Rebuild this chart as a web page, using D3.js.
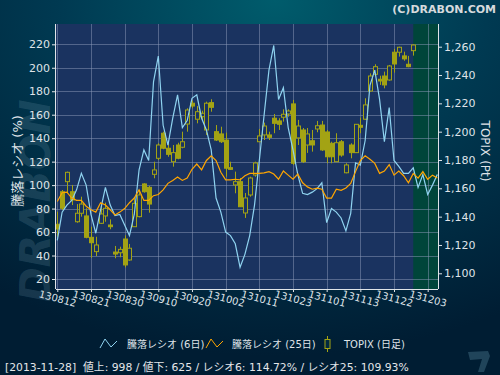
<!DOCTYPE html>
<html>
<head>
<meta charset="utf-8">
<script src="https://cdn.jsdelivr.net/npm/d3@7"></script>
<style>
  html, body { margin: 0; padding: 0; background: #012236; }
  svg { display: block; }
</style>
</head>
<body>
<svg width="500" height="375"></svg>
<script>
// trading days shown on the chart
const dates = [
  "2013-08-12","2013-08-13","2013-08-14","2013-08-15","2013-08-16","2013-08-19","2013-08-20","2013-08-21","2013-08-22","2013-08-23",
  "2013-08-26","2013-08-27","2013-08-28","2013-08-29","2013-08-30","2013-09-02","2013-09-03","2013-09-04","2013-09-05","2013-09-06",
  "2013-09-09","2013-09-10","2013-09-11","2013-09-12","2013-09-13","2013-09-17","2013-09-18","2013-09-19","2013-09-20","2013-09-24",
  "2013-09-25","2013-09-26","2013-09-27","2013-09-30","2013-10-01","2013-10-02","2013-10-03","2013-10-04","2013-10-07","2013-10-08",
  "2013-10-09","2013-10-10","2013-10-11","2013-10-15","2013-10-16","2013-10-17","2013-10-18","2013-10-21","2013-10-22","2013-10-23",
  "2013-10-24","2013-10-25","2013-10-28","2013-10-29","2013-10-30","2013-10-31","2013-11-01","2013-11-05","2013-11-06","2013-11-07",
  "2013-11-08","2013-11-11","2013-11-12","2013-11-13","2013-11-14","2013-11-15","2013-11-18","2013-11-19","2013-11-20","2013-11-21",
  "2013-11-22","2013-11-25","2013-11-26","2013-11-27","2013-11-28","2013-11-29","2013-12-02","2013-12-03","2013-12-04","2013-12-05"
];

// 騰落レシオ 6日 / 25日 (%)
const ratio6 = [
  53, 77, 83, 87, 96, 110, 100, 75, 59, 79,
  98, 83, 74, 75, 66, 57, 75, 113, 130, 121,
  188, 210, 151, 134, 157, 177, 149, 155, 174, 177,
  157, 147, 130, 89, 77, 60, 57, 50, 30, 41,
  57, 83, 121, 160, 198, 219, 173, 183, 149, 130,
  109, 93, 92, 94, 97, 102, 68, 80, 77, 72,
  61, 76, 119, 117, 138, 185, 198, 173, 137, 166,
  121, 116, 110, 110, 114.72, 98, 109, 92, 100, 109
];
const ratio25 = [
  86, 93.5, 94, 89, 87, 87, 82, 79, 77, 85,
  83, 79, 74.5, 77, 80, 85, 89, 96, 87, 87,
  91, 92, 96, 101.5, 104, 107, 104, 106, 113.5, 118,
  113, 121, 125, 121, 111, 104.5, 104.5, 105, 104.5, 108,
  110, 110, 110, 110.5, 111.5, 109.5, 105, 112, 108.5, 105,
  109.5, 102, 98.5, 96.5, 97.5, 96.5, 89, 89, 96.5, 95.5,
  97.5, 101.5, 111.5, 121, 125, 122, 118.5, 110, 112, 117.5,
  108.5, 112, 108, 102, 109.93, 106, 111.5, 105, 108.5, 106
];

// TOPIX daily candles (up to 2013-11-28)
const topixOpen = [
  1134.6, 1157.6, 1164.7, 1157.6, 1136.4, 1142.4, 1140.5, 1125.4, 1115.3, 1135.3,
  1140.5, 1134.1, 1115.0, 1114.5, 1124.2, 1109.4, 1132.9, 1140.0, 1163.1, 1160.7,
  1169.9, 1181.2, 1198.9, 1188.3, 1178.8, 1190.6, 1189.0, 1205.4, 1220.1, 1208.8,
  1210.6, 1201.2, 1220.5, 1200.0, 1198.4, 1194.1, 1174.6, 1162.4, 1164.7, 1142.6,
  1155.3, 1169.4, 1192.9, 1197.7, 1197.7, 1209.5, 1207.6, 1210.2, 1212.5, 1219.6,
  1195.6, 1201.2, 1190.6, 1193.6, 1201.9, 1204.7, 1199.8, 1191.8, 1178.8, 1192.9,
  1171.0, 1190.6, 1185.2, 1204.5, 1208.8, 1228.7, 1240.5, 1237.0, 1239.3, 1236.5,
  1256.1, 1256.1, 1253.5, 1247.6, 1257.2
];
const topixHigh = [
  1143.5, 1158.8, 1171.8, 1162.4, 1148.9, 1154.1, 1145.9, 1132.9, 1125.8, 1148.2,
  1149.9, 1138.1, 1119.3, 1118.8, 1126.8, 1120.7, 1153.0, 1158.8, 1163.6, 1161.7,
  1178.8, 1191.8, 1200.0, 1192.9, 1190.6, 1192.2, 1200.0, 1216.5, 1221.9, 1218.1,
  1214.8, 1221.2, 1222.9, 1204.7, 1203.5, 1199.3, 1178.8, 1171.8, 1167.3, 1156.7,
  1168.2, 1178.8, 1201.9, 1206.4, 1200.0, 1212.5, 1209.5, 1215.8, 1215.8, 1222.4,
  1208.3, 1202.6, 1202.6, 1201.2, 1207.6, 1207.6, 1201.2, 1192.9, 1198.9, 1194.1,
  1177.7, 1191.8, 1205.4, 1209.9, 1223.6, 1241.2, 1247.6, 1239.5, 1242.4, 1247.1,
  1258.4, 1260.0, 1256.5, 1253.5, 1261.7
];
const topixLow = [
  1125.8, 1144.7, 1156.5, 1148.2, 1135.7, 1140.0, 1124.7, 1111.0, 1112.2, 1134.8,
  1136.4, 1131.1, 1110.6, 1111.3, 1104.2, 1108.9, 1132.9, 1139.5, 1156.9, 1142.8,
  1167.1, 1180.0, 1187.6, 1182.3, 1175.3, 1180.5, 1188.3, 1200.0, 1216.5, 1205.9,
  1208.3, 1197.7, 1214.1, 1193.4, 1192.0, 1168.2, 1173.0, 1156.5, 1146.8, 1139.1,
  1154.1, 1168.2, 1192.7, 1194.1, 1194.1, 1198.9, 1201.2, 1207.1, 1210.6, 1176.5,
  1190.6, 1177.9, 1185.0, 1185.9, 1199.6, 1186.4, 1177.7, 1177.7, 1178.8, 1182.3,
  1170.6, 1181.2, 1185.0, 1198.9, 1208.3, 1228.2, 1239.3, 1233.0, 1230.6, 1236.0,
  1241.7, 1253.0, 1250.1, 1245.5, 1253.7
];
const topixClose = [
  1131.3, 1145.9, 1171.3, 1151.8, 1142.4, 1148.9, 1125.4, 1121.6, 1120.0, 1141.9,
  1145.9, 1132.9, 1113.6, 1116.9, 1105.9, 1117.7, 1149.4, 1155.3, 1157.6, 1148.9,
  1173.0, 1190.6, 1188.3, 1184.0, 1185.2, 1181.2, 1192.9, 1215.3, 1218.1, 1214.1,
  1213.0, 1220.1, 1217.2, 1194.1, 1192.9, 1174.2, 1173.4, 1164.7, 1147.0, 1153.2,
  1167.3, 1177.9, 1197.0, 1204.0, 1196.0, 1205.9, 1205.2, 1212.3, 1214.6, 1177.7,
  1204.0, 1178.8, 1198.4, 1190.6, 1204.2, 1187.1, 1182.3, 1182.3, 1192.2, 1183.5,
  1176.5, 1185.2, 1205.2, 1203.1, 1218.9, 1239.3, 1245.9, 1235.8, 1233.0, 1246.4,
  1247.8, 1259.6, 1251.4, 1245.9, 1261.2
];

// axis ticks
const tickDates = ["2013-08-12","2013-08-21","2013-08-30","2013-09-10","2013-09-20","2013-10-02",
                   "2013-10-11","2013-10-23","2013-11-01","2013-11-13","2013-11-22","2013-12-03"];
const ratioTicks = [20, 40, 60, 80, 100, 120, 140, 160, 180, 200, 220];
const topixTicks = [1100, 1120, 1140, 1160, 1180, 1200, 1220, 1240, 1260];
const markedDate = "2013-11-28";

const svg = d3.select("svg");
const plot = {left: 56, right: 438, top: 24, bottom: 289};
const FONT = "'DejaVu Sans', 'Noto Sans CJK JP', sans-serif";

const x = d3.scalePoint().domain(dates).range([57.3, 437.3]);
const yL = d3.scaleLinear().domain([20, 220]).range([279, 44.3]);
const yR = d3.scaleLinear().domain([1100, 1260]).range([273.3, 46.7]);

// background
const defs = svg.append("defs");
const bg = defs.append("radialGradient").attr("id", "bg")
  .attr("cx", "55%").attr("cy", "0%").attr("r", "95%");
bg.append("stop").attr("offset", "0%").attr("stop-color", "#005c6c");
bg.append("stop").attr("offset", "45%").attr("stop-color", "#003a52");
bg.append("stop").attr("offset", "100%").attr("stop-color", "#001d33");
defs.append("clipPath").attr("id", "clip").append("rect")
  .attr("x", plot.left).attr("y", plot.top)
  .attr("width", plot.right - plot.left).attr("height", plot.bottom - plot.top);

svg.append("rect").attr("width", 500).attr("height", 375).attr("fill", "url(#bg)");

// watermark
svg.append("text")
  .attr("transform", "translate(50,302) rotate(-90)")
  .attr("font-family", FONT).attr("font-size", 42).attr("font-weight", "bold")
  .attr("font-style", "italic")
  .attr("fill", "#7fa3b6").attr("fill-opacity", 0.2)
  .text("DRABON");

// bottom right logo
svg.append("path")
  .attr("d", "M468,352 L488,351 L490,356 L484,372 L478,372 L482,359 L470,360 Z")
  .attr("fill", "#5d8fa3").attr("fill-opacity", 0.35);

svg.append("text")
  .attr("x", 496).attr("y", 13).attr("text-anchor", "end")
  .attr("font-family", FONT).attr("font-size", 11).attr("font-weight", "bold")
  .attr("fill", "#d6dadd").text("(C)DRABON.COM");

// plot area
svg.append("rect")
  .attr("x", plot.left).attr("y", plot.top)
  .attr("width", plot.right - plot.left).attr("height", plot.bottom - plot.top)
  .attr("fill", "#1a3360");
svg.append("rect")
  .attr("x", x(markedDate)).attr("y", plot.top)
  .attr("width", plot.right - x(markedDate)).attr("height", plot.bottom - plot.top)
  .attr("fill", "#00453a");

// grid
const grid = svg.append("g").attr("stroke", "#8b9ab8").attr("stroke-opacity", 0.5).attr("stroke-width", 1);
grid.selectAll(".h").data(ratioTicks).enter().append("line")
  .attr("x1", plot.left).attr("x2", plot.right)
  .attr("y1", d => Math.round(yL(d)) + 0.5).attr("y2", d => Math.round(yL(d)) + 0.5);
grid.selectAll(".v").data(tickDates).enter().append("line")
  .attr("y1", plot.top).attr("y2", plot.bottom)
  .attr("x1", d => Math.round(x(d)) + 0.5).attr("x2", d => Math.round(x(d)) + 0.5);

// candles
const candles = topixOpen.map((o, i) => ({
  date: dates[i], open: o, high: topixHigh[i], low: topixLow[i], close: topixClose[i]
}));
const olive = "#a3a314";
const cg = svg.append("g").attr("clip-path", "url(#clip)");
cg.selectAll(".wick").data(candles).enter().append("line")
  .attr("x1", d => Math.round(x(d.date)) + 0.5).attr("x2", d => Math.round(x(d.date)) + 0.5)
  .attr("y1", d => yR(d.high)).attr("y2", d => yR(d.low))
  .attr("stroke", olive).attr("stroke-width", 1);
cg.selectAll(".body").data(candles).enter().append("rect")
  .attr("x", d => Math.round(x(d.date)) - 1.5)
  .attr("y", d => yR(Math.max(d.open, d.close)))
  .attr("width", 4)
  .attr("height", d => Math.max(1, Math.abs(yR(d.open) - yR(d.close))))
  .attr("fill", d => d.close >= d.open ? "#1a3360" : olive)
  .attr("stroke", olive).attr("stroke-width", 1);

// ratio lines
const line = d3.line().x((d, i) => x(dates[i])).y(d => yL(d));
const lg = svg.append("g").attr("clip-path", "url(#clip)").attr("fill", "none");
lg.append("path").datum(ratio6).attr("d", line)
  .attr("stroke", "#8fd3f0").attr("stroke-width", 1.2);
lg.append("path").datum(ratio25).attr("d", line)
  .attr("stroke", "#ffa500").attr("stroke-width", 1.2);

// axes
const axisColor = "#dfe3e8";
function styleAxis(g) {
  g.select(".domain").remove();
  g.selectAll(".tick line").attr("stroke", axisColor);
  g.selectAll(".tick text").attr("fill", axisColor).attr("font-family", FONT).attr("font-size", 11);
}
svg.append("g").attr("transform", `translate(${plot.left},0)`)
  .call(d3.axisLeft(yL).tickValues(ratioTicks).tickSize(4).tickPadding(2))
  .call(styleAxis);
svg.append("g").attr("transform", `translate(${plot.right},0)`)
  .call(d3.axisRight(yR).tickValues(topixTicks).tickFormat(d3.format(",")).tickSize(4).tickPadding(2))
  .call(styleAxis);
const xa = svg.append("g").attr("transform", `translate(0,${plot.bottom})`)
  .call(d3.axisBottom(x).tickValues(tickDates).tickSize(3)
    .tickFormat(d => d.slice(2, 4) + d.slice(5, 7) + d.slice(8, 10)))
  .call(styleAxis);
xa.selectAll(".tick text")
  .attr("font-size", 10).attr("text-anchor", "middle")
  .attr("y", 0).attr("dy", 0)
  .attr("transform", "translate(-1,13) rotate(15)");

svg.append("line").attr("x1", plot.left - 0.5).attr("x2", plot.left - 0.5)
  .attr("y1", plot.top).attr("y2", plot.bottom).attr("stroke", axisColor);
svg.append("line").attr("x1", plot.right + 0.5).attr("x2", plot.right + 0.5)
  .attr("y1", plot.top).attr("y2", plot.bottom).attr("stroke", axisColor);
svg.append("line").attr("x1", plot.left).attr("x2", plot.right)
  .attr("y1", plot.bottom + 0.5).attr("y2", plot.bottom + 0.5).attr("stroke", axisColor);

// axis titles
svg.append("text")
  .attr("transform", "translate(22,161) rotate(-90)").attr("text-anchor", "middle")
  .attr("font-family", FONT).attr("font-size", 13).attr("fill", axisColor)
  .text("騰落レシオ (%)");
svg.append("text")
  .attr("transform", "translate(481,151) rotate(90)").attr("text-anchor", "middle")
  .attr("font-family", FONT).attr("font-size", 12).attr("fill", axisColor)
  .text("TOPIX (Pt)");

// legend
const leg = svg.append("g").attr("font-family", FONT).attr("font-size", 10).attr("fill", axisColor);
leg.append("polyline").attr("points", "100,348 105,339 111,347 117,341")
  .attr("fill", "none").attr("stroke", "#8fd3f0");
leg.append("text").attr("x", 127).attr("y", 348).text("騰落レシオ (6日)");
leg.append("polyline").attr("points", "206,348 211,339 217,347 223,341")
  .attr("fill", "none").attr("stroke", "#ffa500");
leg.append("text").attr("x", 232).attr("y", 348).text("騰落レシオ (25日)");
leg.append("line").attr("x1", 327.5).attr("x2", 327.5).attr("y1", 336).attr("y2", 352).attr("stroke", olive);
leg.append("rect").attr("x", 325).attr("y", 339.5).attr("width", 5).attr("height", 9)
  .attr("fill", "#022a40").attr("stroke", olive);
leg.append("text").attr("x", 344).attr("y", 348).text("TOPIX (日足)");

// footer
svg.append("text").attr("x", 5).attr("y", 371)
  .attr("font-family", FONT).attr("font-size", 10.8).attr("fill", "#e4e6ea")
  .attr("xml:space", "preserve")
  .text("[2013-11-28]  値上: 998 / 値下: 625 / レシオ6: 114.72% / レシオ25: 109.93%");
</script>
</body>
</html>
